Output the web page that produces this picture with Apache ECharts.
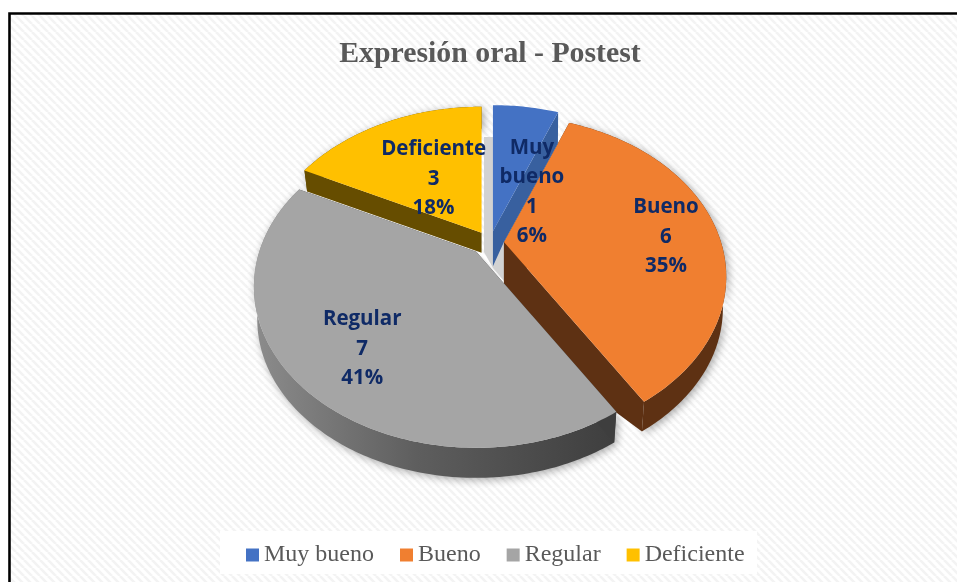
<!DOCTYPE html>
<html><head><meta charset="utf-8">
<style>html,body{margin:0;padding:0;background:#fff}#c{width:957px;height:582px}</style>
<script src="https://cdn.jsdelivr.net/npm/echarts@6/dist/echarts.min.js"></script>
</head><body><div id="c"></div>
<script>
const titleText = 'Expresión oral - Postest';
const categories = ['Muy bueno', 'Bueno', 'Regular', 'Deficiente'];
const values = [1, 6, 7, 3];

// style / layout
const colors = ['#4472C4', '#F07F30', '#A5A5A5', '#FFC000'];
const sideColors = ['#38609F', '#5E3113', null, '#664D00'];
const edgeColors = ['#38609F', '#5E3113', '#3E3E3E', '#664D00'];
const zOrder = [6, 3, 4, 2];
const depthNear = [35, 32, 33, 20];
const depthFar = [0, 32, 33, 20];
const tipExtra = [0, 55, 0, 0];
const nudgeX = [0, -2, -3, 0];
const labelDx = [39, 162, -114, -48];
const labelDy = [-39, -5, 97, -54];
const CX = 490, CY = 243, EX = 16, EY = 12, RX = 217, RY = 153.4, P = 0.217, SHRINK = 0.985;

const total = values.reduce((a, b) => a + b, 0);
function sliceAngles(i) {
  let s = 0;
  for (let k = 0; k < i; k++) s += values[k];
  const a0 = s / total * 2 * Math.PI, a1 = (s + values[i]) / total * 2 * Math.PI;
  return [a0, a1];
}
function sliceCentre(i) {
  const [a0, a1] = sliceAngles(i), m = (a0 + a1) / 2;
  return [CX + nudgeX[i] + EX * Math.sin(m), CY - EY * Math.cos(m)];
}
function project(i, a, r, lower) {
  const c = sliceCentre(i);
  const X = r * Math.sin(a), Y = r * Math.cos(a), s = 1 / (1 + P * Y);
  const k = lower ? SHRINK : 1;
  const d = lower ? depthNear[i] + (depthFar[i] - depthNear[i]) * Math.max(0, Y) : 0;
  return [c[0] + RX * X * s * k, c[1] - RY * Y * s * k + d];
}
function arcPoints(i, a0, a1, lower) {
  const n = Math.max(2, Math.ceil((a1 - a0) * 180 / Math.PI));
  const pts = [];
  for (let j = 0; j <= n; j++) pts.push(project(i, a0 + (a1 - a0) * j / n, 1, lower));
  return pts;
}
function greySide() {
  return new echarts.graphic.LinearGradient(0, 0, 1, 0, [
    { offset: 0, color: '#8C8C8C' }, { offset: 0.45, color: '#5E5E5E' }, { offset: 1, color: '#3E3E3E' }
  ]);
}
function sliceItem(i) {
  return function () {
    const [a0, a1] = sliceAngles(i);
    const side = sideColors[i] || greySide();
    const top = arcPoints(i, a0, a1, false), bot = arcPoints(i, a0, a1, true);
    const tip = project(i, 0, 0, false), tipL = project(i, 0, 0, true);
    tipL[1] += tipExtra[i];
    const shade = { shadowColor: 'rgba(0,0,0,0.35)', shadowBlur: 9, shadowOffsetX: 2, shadowOffsetY: 2 };
    const edgeA = i === 0
      ? [tip, top[top.length - 1], project(1, a1, 0.8, false), project(1, 0, 0, false), tipL]
      : [tip, top[top.length - 1], bot[bot.length - 1], tipL];
    const sides = [
      { type: 'polygon', shape: { points: i === 0 ? [tip, tip, tip] : top.concat(bot.slice().reverse()) }, style: Object.assign({ fill: side }, i === 0 ? {} : shade) },
      { type: 'polygon', shape: { points: [tip, top[0], bot[0], tipL] }, style: { fill: edgeColors[i] } },
      { type: 'polygon', shape: { points: edgeA }, style: { fill: edgeColors[i] } }
    ];
    const face = { type: 'polygon', shape: { points: [tip].concat(top) }, style: { fill: colors[i] } };
    return { type: 'group', children: sides.concat([face]) };
  };
}
function labelText(i) {
  return [categories[i].replace(' ', '\n'), values[i], Math.round(values[i] / total * 100) + '%'].join('\n');
}
function hatch() {
  const n = 8, cv = document.createElement('canvas');
  cv.width = cv.height = n;
  const g = cv.getContext('2d');
  g.fillStyle = '#fff'; g.fillRect(0, 0, n, n);
  g.strokeStyle = '#F3F3F3'; g.lineWidth = 2.6;
  [-n, 0, n].forEach(o => { g.beginPath(); g.moveTo(o, 0); g.lineTo(o + n, n); g.stroke(); });
  return cv;
}

const series = categories.map((name, i) => ({
  type: 'custom', name, coordinateSystem: 'none', z: zOrder[i], silent: true,
  itemStyle: { color: colors[i] },
  renderItem: sliceItem(i),
  data: [values[i]]
}));
series.push({
  type: 'custom', name: 'Etiquetas', coordinateSystem: 'none', z: 10, silent: true,
  renderItem: function (p) {
    const i = p.dataIndex, c = sliceCentre(i);
    return {
      type: 'text',
      style: {
        text: labelText(i), x: c[0] + labelDx[i], y: c[1] + labelDy[i],
        align: 'center', verticalAlign: 'middle',
        fontFamily: '"Open Sans"', fontWeight: 'bold', fontSize: 20.5, lineHeight: 29.3, fill: '#0F2A66'
      }
    };
  },
  data: values
});

const chart = echarts.init(document.getElementById('c'), null, { renderer: 'canvas' });
chart.setOption({
  animation: false,
  backgroundColor: '#fff',
  title: {
    text: titleText, left: 485, top: 34, textAlign: 'center',
    textStyle: { fontFamily: '"Liberation Serif"', fontWeight: 'bold', fontSize: 29.8, color: '#595959' }
  },
  legend: {
    data: categories, left: 246, top: 543, padding: 0, itemGap: 26, itemWidth: 13, itemHeight: 13, icon: 'rect',
    textStyle: { fontFamily: '"Liberation Serif"', fontSize: 24, color: '#595959', padding: [0, 0, 0, 0] }
  },
  graphic: { elements: [
    { type: 'rect', z: -10, shape: { x: 9.5, y: 13.5, width: 1000, height: 640 },
      style: { fill: { image: hatch(), repeat: 'repeat' }, stroke: '#000', lineWidth: 2.6 } },
    { type: 'rect', z: -9, shape: { x: 220, y: 531, width: 537, height: 43 }, style: { fill: '#fff' } },
    { type: 'polygon', z: -8, shape: { points: [[484, 137], [493, 137], [505, 245], [505, 282], [493, 268], [484, 252]] }, style: { fill: '#D2D2D2' } }
  ] },
  series
});
</script></body></html>
